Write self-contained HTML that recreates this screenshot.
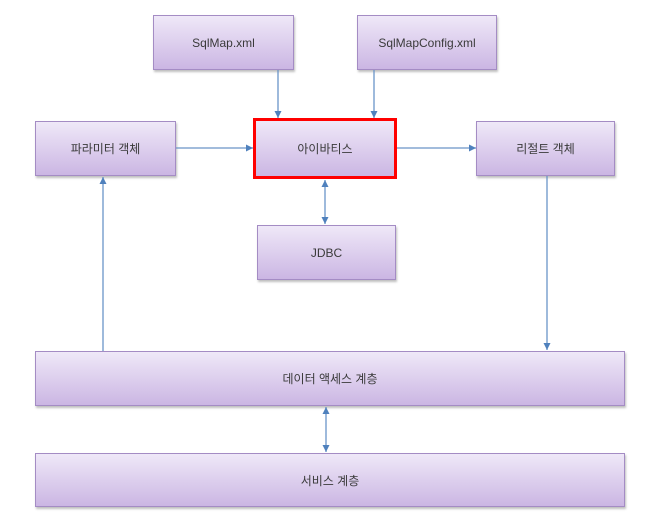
<!DOCTYPE html>
<html><head><meta charset="utf-8"><style>
body{margin:0;width:657px;height:523px;background:#fff;position:relative;overflow:hidden;font-family:"Liberation Sans","Noto Sans CJK KR",sans-serif;}
.b{position:absolute;box-sizing:border-box;border:1.5px solid #a48cc4;background:linear-gradient(#efe8f8,#cbb6e3);box-shadow:1px 2px 2px rgba(0,0,0,0.25);display:flex;align-items:center;justify-content:center;font-size:12px;color:#3a3a3a;}
svg{position:absolute;left:0;top:0;}
</style></head><body>
<div class="b" style="left:153px;top:15px;width:141px;height:55px">SqlMap.xml</div>
<div class="b" style="left:357px;top:15px;width:140px;height:55px">SqlMapConfig.xml</div>
<div class="b" style="left:35px;top:121px;width:141px;height:55px">파라미터 객체</div>
<div class="b" style="left:253px;top:118px;width:144px;height:61px;border:3.5px solid #f00;box-shadow:none">아이바티스</div>
<div class="b" style="left:476px;top:121px;width:139px;height:55px">리절트 객체</div>
<div class="b" style="left:257px;top:225px;width:139px;height:55px">JDBC</div>
<div class="b" style="left:35px;top:351px;width:590px;height:55px">데이터 액세스 계층</div>
<div class="b" style="left:35px;top:453px;width:590px;height:54px">서비스 계층</div>
<svg width="657" height="523">
<defs><marker id="a" markerWidth="8" markerHeight="8" refX="7" refY="4" orient="auto-start-reverse" markerUnits="userSpaceOnUse"><path d="M0,0.5 L7,4 L0,7.5z" fill="#4f81bd"/></marker></defs>
<g stroke="#6a94c8" stroke-width="1.3" fill="none">
<line x1="278" y1="70" x2="278" y2="118" marker-end="url(#a)"/>
<line x1="374" y1="70" x2="374" y2="118" marker-end="url(#a)"/>
<line x1="176" y1="148" x2="253" y2="148" marker-end="url(#a)"/>
<line x1="397" y1="148" x2="476" y2="148" marker-end="url(#a)"/>
<line x1="325" y1="180" x2="325" y2="224" marker-end="url(#a)" marker-start="url(#a)"/>
<line x1="103" y1="351" x2="103" y2="177" marker-end="url(#a)"/>
<line x1="547" y1="176" x2="547" y2="350" marker-end="url(#a)"/>
<line x1="326" y1="407" x2="326" y2="452" marker-end="url(#a)" marker-start="url(#a)"/>
</g>
</svg>
</body></html>
